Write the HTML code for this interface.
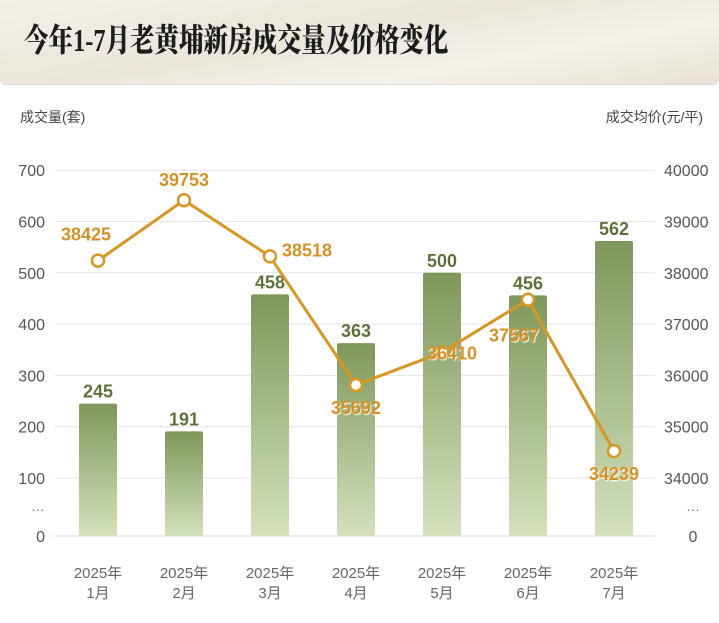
<!DOCTYPE html>
<html><head><meta charset="utf-8"><style>
body{margin:0;width:719px;height:623px;background:#fff;overflow:hidden;font-family:"Liberation Sans","Noto Sans CJK SC",sans-serif}
#hdr{position:absolute;left:0;top:0;width:719px;height:84px;background:linear-gradient(170deg,#f3efe8 0%,#ece6dc 45%,#f4f1eb 70%,#e9e2d6 100%);border-bottom:1px solid #e2ddd4;border-radius:0 0 6px 6px}
#title{position:absolute;left:24px;top:15px;font-family:"Liberation Serif","Noto Serif CJK SC",serif;font-weight:900;font-size:32px;color:#1d1d1d;transform:scaleX(0.765);transform-origin:left top;white-space:nowrap}
</style></head><body>
<div id="hdr"><div id="title">今年1-7月老黄埔新房成交量及价格变化</div></div>
<svg id="chart" width="719" height="623" style="position:absolute;left:0;top:0">
<defs><linearGradient id="bg" x1="0" y1="0" x2="0" y2="1"><stop offset="0" stop-color="#7d985a"/><stop offset="1" stop-color="#d4e1bd"/></linearGradient>
<filter id="ts"><feDropShadow dx="0.8" dy="1" stdDeviation="0.4" flood-color="#fff" flood-opacity="1"/></filter></defs>
</svg>
<script>
const categories=["1月","2月","3月","4月","5月","6月","7月"];
const volumes=[245,191,458,363,500,456,562];
const prices=[38425,39753,38518,35692,36410,37567,34239];
const leftTicks=[100,200,300,400,500,600,700];
const rightTicks=[34000,35000,36000,37000,38000,39000,40000];
const svg=document.getElementById('chart');const NS='http://www.w3.org/2000/svg';
function mk(t,a,txt){const e=document.createElementNS(NS,t);for(const k in a)e.setAttribute(k,a[k]);if(txt!=null)e.textContent=txt;svg.appendChild(e);return e;}
const x0=55,x1=655,base=536,y100=478,step=51.3;
const xC=i=>98+i*86;
const yL=v=>v>=100?y100-(v-100)/100*step:base-(v/100)*(base-y100);
const yR=v=>y100-(v-34000)/1000*step;
const yP=v=>462-(v-34000)*0.0455;
let t;
t=mk('text',{x:20,y:122,'font-size':14,fill:'#444'},'成交量(套)');

t=mk('text',{x:703,y:122,'font-size':14,fill:'#444','text-anchor':'end'},'成交均价(元/平)');

leftTicks.forEach((v,i)=>{const y=yL(v);
 const g=mk('line',{x1:x0,x2:x1,y1:y,y2:y,stroke:'#e4e4e4','stroke-width':1});
 
 const l=mk('text',{x:45,y:y+6,'font-size':16,fill:'#555','text-anchor':'end'},v);
 
 const r=mk('text',{x:664,y:yR(rightTicks[i])+6,'font-size':16,fill:'#555'},rightTicks[i]);
 });
t=mk('line',{x1:x0,x2:x1,y1:base,y2:base,stroke:'#d6d6d6'});
t=mk('text',{x:45,y:base+6,'font-size':16,fill:'#555','text-anchor':'end'},'0');
t=mk('text',{x:45,y:511,'font-size':14,fill:'#777','text-anchor':'end'},'…');
t=mk('text',{x:693,y:base+6,'font-size':16,fill:'#555','text-anchor':'middle'},'0');
t=mk('text',{x:693,y:511,'font-size':14,fill:'#777','text-anchor':'middle'},'…');
volumes.forEach((v,i)=>{const y=yL(v);
 const b=mk('rect',{x:xC(i)-19,y:y,width:38,height:base-y,rx:2,fill:'url(#bg)'});
 
 const l=mk('text',{x:xC(i),y:y-6,'font-size':18,'font-weight':'bold',fill:'#5b7034','text-anchor':'middle',filter:'url(#ts)'},v);
 
 const a=mk('text',{x:xC(i),y:578,'font-size':15,fill:'#666','text-anchor':'middle'},'2025年');
 
 const m=mk('text',{x:xC(i),y:598,'font-size':15,fill:'#666','text-anchor':'middle'},categories[i]);
 });
const pl=mk('polyline',{points:prices.map((p,i)=>xC(i)+','+yP(p)).join(' '),fill:'none',stroke:'#d89622','stroke-width':3});

const dxs=[-12,0,37,0,-15,-14,0];
const dys=[-20,-14,0,29,7,42,29];
const anc=['middle','middle','middle','middle','start','middle','middle'];
prices.forEach((p,i)=>{const y=yP(p);
 const c=mk('circle',{cx:xC(i),cy:y,r:6,fill:'#fff',stroke:'#d89622','stroke-width':2.5});
 
 const l=mk('text',{x:xC(i)+dxs[i],y:y+dys[i],'font-size':18,'font-weight':'bold',fill:'#d8901c','text-anchor':anc[i],filter:'url(#ts)'},p);
 });
</script>
</body></html>
